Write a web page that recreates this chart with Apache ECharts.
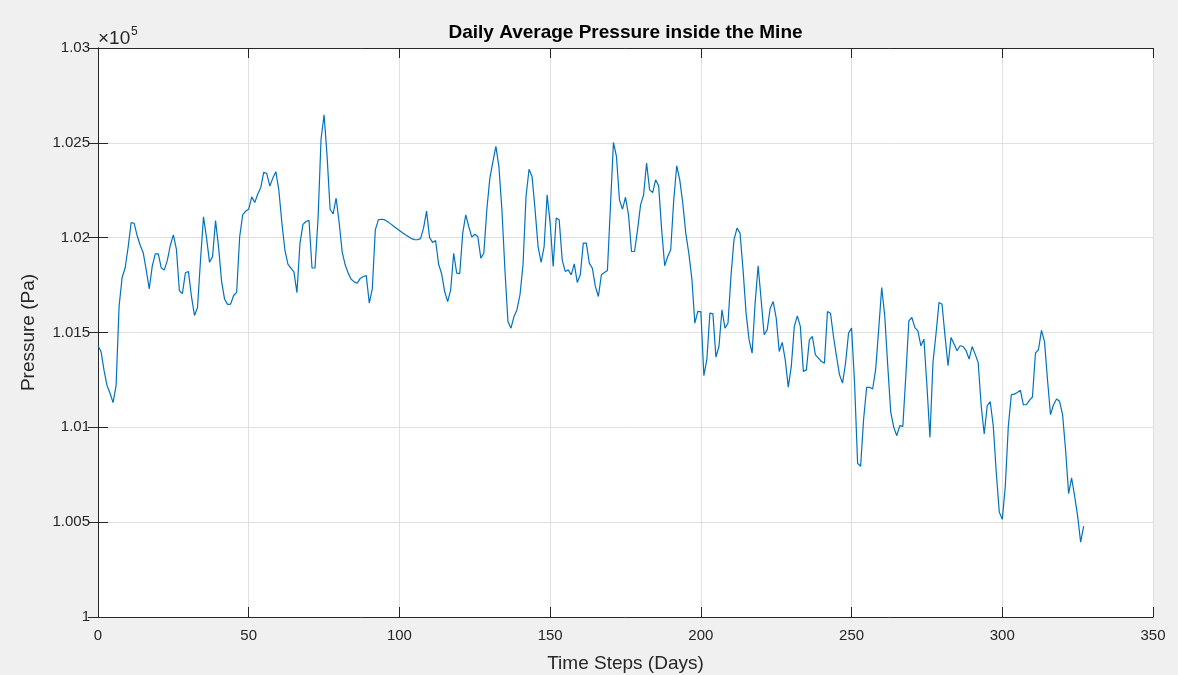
<!DOCTYPE html>
<html>
<head>
<meta charset="utf-8">
<script src="https://cdn.jsdelivr.net/npm/echarts@6/dist/echarts.min.js"></script>
<style>
html,body{margin:0;padding:0;background:#f0f0f0;}
#chart{width:1178px;height:675px;}
</style>
</head>
<body>
<div id="chart"></div>
<script>
const titleText = "Daily Average Pressure inside the Mine";
const xAxisName = "Time Steps (Days)";
const yAxisName = "Pressure (Pa)";
const yTicks = [100000, 100500, 101000, 101500, 102000, 102500, 103000];
const xTicks = [0, 50, 100, 150, 200, 250, 300, 350];

// Daily average pressure (Pa), day 0..327
const pressure = [
101430,101400,101300,101220,101180,101130,101220,101640,101790,101840,
101950,102080,102075,102010,101960,101920,101830,101730,101850,101915,
101915,101840,101830,101880,101960,102015,101940,101720,101705,101815,
101822,101690,101590,101630,101880,102110,102000,101870,101900,102090,
101950,101770,101675,101648,101650,101695,101712,102005,102120,102140,
102150,102215,102185,102230,102265,102345,102338,102272,102314,102348,
102250,102077,101936,101860,101840,101820,101710,101970,102070,102085,
102092,101840,101840,102100,102520,102648,102430,102150,102125,102208,
102080,101925,101857,101813,101781,101767,101760,101785,101795,101800,
101655,101730,102041,102094,102097,102095,102085,102074,102062,102050,
102038,102026,102015,102005,101995,101990,101989,101995,102050,102140,
102000,101975,101985,101860,101810,101716,101663,101725,101918,101813,
101810,102024,102120,102059,102003,102018,102006,101892,101918,102150,
102314,102400,102481,102375,102147,101830,101558,101523,101584,101620,
101699,101857,102217,102361,102322,102147,101953,101869,101953,102226,
102077,101848,102103,102094,101883,101822,101830,101804,101862,101764,
101804,101971,101971,101866,101839,101743,101690,101804,101816,101827,
102164,102502,102428,102199,102150,102213,102120,101927,101927,102041,
102173,102226,102393,102252,102238,102305,102273,102041,101852,101901,
101936,102199,102379,102305,102182,102024,101918,101787,101549,101611,
101610,101272,101360,101602,101598,101370,101426,101620,101523,101549,
101800,101990,102050,102024,101830,101602,101461,101391,101655,101852,
101672,101488,101514,101628,101663,101576,101400,101448,101356,101212,
101321,101532,101588,101532,101295,101303,101461,101479,101382,101365,
101347,101338,101611,101602,101479,101374,101277,101233,101338,101497,
101523,101230,100810,100795,101044,101211,101211,101202,101307,101518,
101737,101588,101325,101079,101000,100956,101009,101005,101272,101561,
101579,101526,101509,101430,101465,101219,100947,101342,101491,101658,
101649,101482,101325,101474,101439,101404,101430,101426,101404,101360,
101426,101386,101342,101114,100965,101114,101135,101009,100763,100553,
100515,100690,101005,101172,101175,101184,101195,101119,101119,101142,
101160,101391,101409,101511,101453,101251,101067,101119,101149,101137,
101067,100882,100651,100733,100637,100532,100395,100479
];
const days = pressure.map((_, i) => i);

const chart = echarts.init(document.getElementById('chart'), null, {renderer: 'canvas'});
const axisColor = '#262626';
const gridColor = '#dfdfdf';
const fontFam = '"Liberation Sans", Arial, Helvetica, sans-serif';

const G = {left: 98, top: 48, right: 25, bottom: 58};
const plotCenterX = G.left + (1178 - G.left - G.right) / 2;

function yFmt(v){ return String(parseFloat((v/100000).toFixed(3))); }

chart.setOption({
  backgroundColor: '#f0f0f0',
  animation: false,
  grid: Object.assign({show: true, backgroundColor: '#ffffff', borderWidth: 0, containLabel: false, outerBoundsMode: 'none'}, G),
  graphic: [
    {type: 'text', x: plotCenterX, y: 33, style: {text: titleText, fill: '#000', font: 'bold 19px ' + fontFam, textAlign: 'center', textVerticalAlign: 'middle'}},
    {type: 'text', x: 98, y: 38.5, style: {text: '×10', fill: axisColor, font: '19px ' + fontFam, textAlign: 'left', textVerticalAlign: 'middle'}},
    {type: 'text', x: 131, y: 32, style: {text: '5', fill: axisColor, font: '12px ' + fontFam, textAlign: 'left', textVerticalAlign: 'middle'}}
  ],
  xAxis: [{
    type: 'value', min: 0, max: 350, interval: 50,
    name: xAxisName, nameLocation: 'middle', nameGap: 37,
    nameTextStyle: {fontSize: 19, color: axisColor, fontFamily: fontFam},
    axisLine: {show: true, lineStyle: {color: axisColor, width: 1}},
    axisTick: {show: true, inside: true, length: 10, lineStyle: {color: axisColor}},
    axisLabel: {fontSize: 15, color: axisColor, margin: 11, fontFamily: fontFam},
    splitLine: {show: true, lineStyle: {color: gridColor, width: 1}}
  }, {
    type: 'value', position: 'top', min: 0, max: 350, interval: 50,
    axisLine: {show: true, lineStyle: {color: axisColor, width: 1}},
    axisTick: {show: true, inside: true, length: 10, lineStyle: {color: axisColor}},
    axisLabel: {show: false}, splitLine: {show: false}
  }],
  yAxis: [{
    type: 'value', min: 100000, max: 103000, interval: 500,
    name: yAxisName, nameLocation: 'middle', nameGap: 60,
    nameTextStyle: {fontSize: 19, color: axisColor, fontFamily: fontFam},
    axisLine: {show: true, lineStyle: {color: axisColor, width: 1}},
    axisTick: {show: true, inside: true, length: 10, lineStyle: {color: axisColor}},
    axisLabel: {fontSize: 15, color: axisColor, margin: 8, fontFamily: fontFam, formatter: yFmt},
    splitLine: {show: true, lineStyle: {color: gridColor, width: 1}}
  }, {
    type: 'value', position: 'right', min: 100000, max: 103000, interval: 500,
    axisLine: {show: true, lineStyle: {color: axisColor, width: 1}},
    axisTick: {show: true, inside: true, length: 10, lineStyle: {color: axisColor}},
    axisLabel: {show: false}, splitLine: {show: false}
  }],
  series: [{
    type: 'line',
    data: days.map((d, i) => [d, pressure[i]]),
    showSymbol: false, symbol: 'none',
    lineStyle: {color: '#0072BD', width: 1.2},
    itemStyle: {color: '#0072BD'}
  }]
});
</script>
</body>
</html>
